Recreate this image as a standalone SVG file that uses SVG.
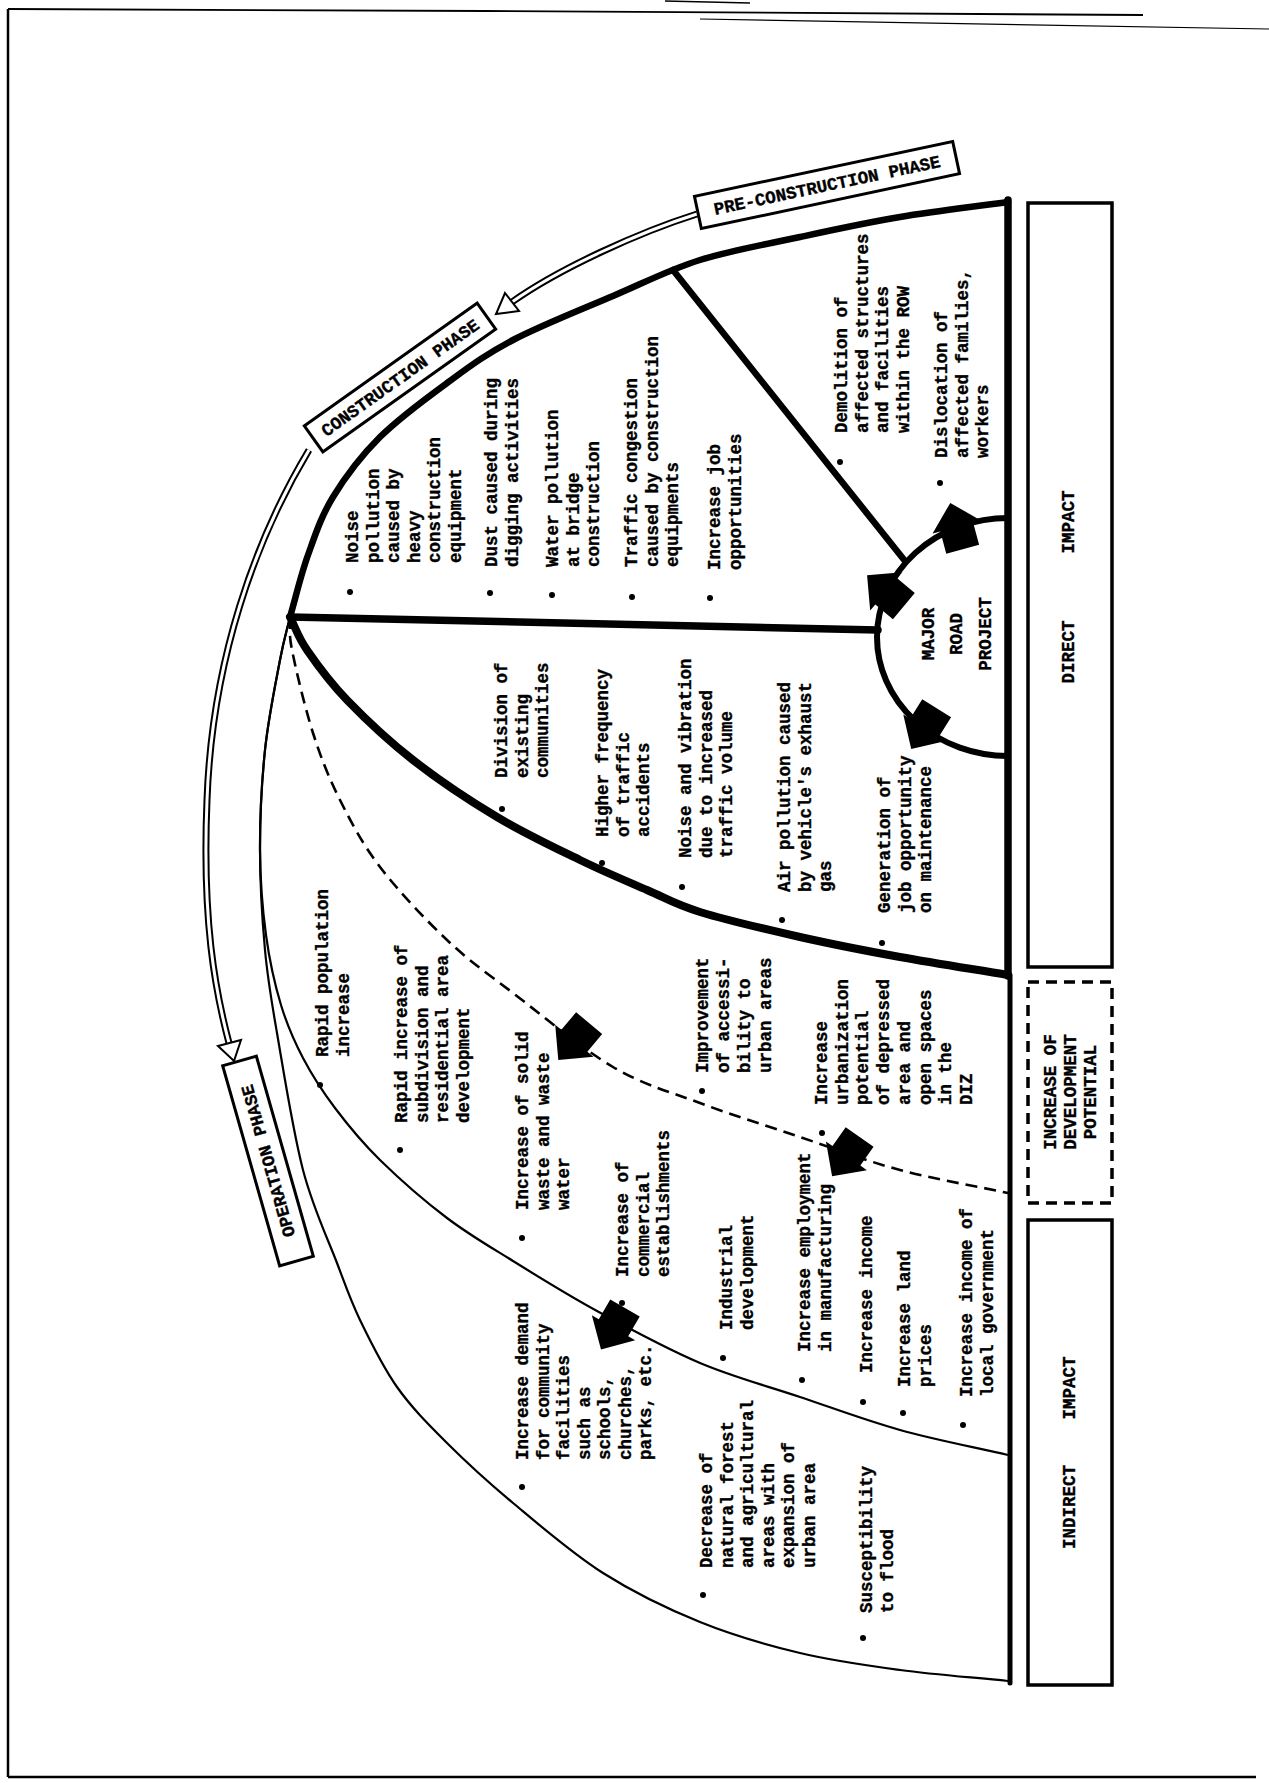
<svg xmlns="http://www.w3.org/2000/svg" width="1269" height="1783" viewBox="0 0 1269 1783">
<style>
.t{font-family:"Liberation Mono","DejaVu Sans Mono",monospace;font-size:17.5px;font-weight:bold;fill:#000;stroke:#000;stroke-width:0.35}
.c{text-anchor:middle}
.ln{fill:none;stroke:#000;stroke-linecap:round;stroke-linejoin:round}
.thin{fill:none;stroke:#000;stroke-width:2.2}
.dash{fill:none;stroke:#000;stroke-width:2.6;stroke-dasharray:12 7}
.box{fill:#fff;stroke:#000;stroke-width:3.5}
.dbox{fill:#fff;stroke:#000;stroke-width:3.5;stroke-dasharray:11 7}
.pbox{fill:#fff;stroke:#000;stroke-width:3}
.blt{fill:#000}
.hol{fill:none;stroke:#000;stroke-width:7}
.holi{fill:none;stroke:#fff;stroke-width:3}
.head{fill:#fff;stroke:#000;stroke-width:2}
</style>
<defs>
<polygon id="blk" points="-22,-17 1,-17 1,-25 26,0 1,25 1,17 -22,17" fill="#000"/>
</defs>
<rect width="1269" height="1783" fill="#fff"/>

<g id="border" fill="none" stroke="#000">
<polyline points="8,9 486,11 1143,15" stroke-width="1.8"/>
<line x1="665" y1="1" x2="750" y2="3" stroke-width="1.5"/>
<line x1="700" y1="19" x2="1269" y2="29" stroke-width="1.2"/>
<line x1="8" y1="9" x2="8" y2="1777" stroke-width="2.5"/>
<line x1="8" y1="1777" x2="1256" y2="1777" stroke-width="2.5"/>
</g>

<g id="regions">
<line x1="1008" y1="200" x2="1008" y2="976" class="ln" stroke-width="7.5"/>
<line x1="1010" y1="975" x2="1010" y2="1683" class="ln" stroke-width="5"/>
<path class="ln" stroke-width="6.5" d="M1008,202 C972,207 934.7,211.2 900,217 C865.3,222.8 833.3,229.8 800,237 C766.7,244.2 731.2,250.2 700,260 C668.8,269.8 644.2,282.7 613,296 C581.8,309.3 540.7,325.5 513,340 C485.3,354.5 469.2,366.8 447,383 C424.8,399.2 399,418 380,437 C361,456 345,477.3 333,497 C321,516.7 315.2,535 308,555 C300.8,575 296,596.3 290,617"/>
<path class="ln" stroke-width="8" d="M290,617 C295.7,628 297.5,636.2 307,650 C316.5,663.8 329.3,681.7 347,700 C364.7,718.3 388,740.5 413,760 C438,779.5 469.2,800.3 497,817 C524.8,833.7 555,847.8 580,860 C605,872.2 627,881.3 647,890 C667,898.7 674.5,904.2 700,912 C725.5,919.8 766.7,929.5 800,937 C833.3,944.5 865.3,950.7 900,957 C934.7,963.3 972,969 1008,975"/>
<path class="dash" d="M290,617 C290.7,628 288.2,630.7 292,650 C295.8,669.3 305,708 313,733 C321,758 328.8,777.7 340,800 C351.2,822.3 362.2,843.7 380,867 C397.8,890.3 424.8,919 447,940 C469.2,961 485.3,971.8 513,993 C540.7,1014.2 581.8,1048.7 613,1067 C644.2,1085.3 668.8,1091.3 700,1103 C731.2,1114.7 766.7,1125.8 800,1137 C833.3,1148.2 865.3,1160.7 900,1170 C934.7,1179.3 972,1185.3 1008,1193"/>
<path class="thin" d="M290,617 C286.7,631.3 284.2,637.8 280,660 C275.8,682.2 268.3,718.3 265,750 C261.7,781.7 260,816.7 260,850 C260,883.3 262.2,919.5 265,950 C267.8,980.5 270.7,996.3 277,1033 C283.3,1069.7 293,1131.7 303,1170 C313,1208.3 327.5,1238 337,1263 C346.5,1288 350,1299.3 360,1320 C370,1340.7 382.5,1366.5 397,1387 C411.5,1407.5 427.7,1423.7 447,1443 C466.3,1462.3 487,1481.3 513,1503 C539,1524.7 571.8,1553.2 603,1573 C634.2,1592.8 667.2,1608.7 700,1622 C732.8,1635.3 766.7,1645 800,1653 C833.3,1661 865.3,1665.3 900,1670 C934.7,1674.7 972,1677.3 1008,1681"/>
<path class="thin" d="M290,617 C286.7,631.3 284.2,637.8 280,660 C275.8,682.2 268.3,718.3 265,750 C261.7,781.7 259.8,819.2 260,850 C260.2,880.8 262.5,909.2 266,935 C269.5,960.8 274.8,984.5 281,1005 C287.2,1025.5 294,1040.8 303,1058 C312,1075.2 322.2,1091 335,1108 C347.8,1125 361.3,1141.7 380,1160 C398.7,1178.3 424.8,1201.2 447,1218 C469.2,1234.8 488,1245.5 513,1261 C538,1276.5 565.8,1294 597,1311 C628.2,1328 666.2,1348.7 700,1363 C733.8,1377.3 766.7,1385.8 800,1397 C833.3,1408.2 865.3,1420.3 900,1430 C934.7,1439.7 972,1446.7 1008,1455"/>
<line x1="673" y1="270" x2="905" y2="561" class="ln" stroke-width="6.5"/>
<line x1="290" y1="617" x2="878" y2="630" class="ln" stroke-width="7.5"/>
</g>

<g id="major-road-project">
<path class="ln" stroke-width="6" d="M1008,518 A131,119 0 0 0 1008,756"/>
<text class="t c" transform="translate(934,634) rotate(-90)">MAJOR</text>
<text class="t c" transform="translate(962,634) rotate(-90)">ROAD</text>
<text class="t c" transform="translate(991,634) rotate(-90)">PROJECT</text>
</g>

<g id="connectors">
<path class="hol" d="M697,214 C640,232 560,268 512,302"/>
<path class="holi" d="M697,214 C640,232 560,268 512,302"/>
<polygon class="head" points="505,293 519,311 496,314"/>
<path class="hol" d="M309,450 C255,540 212,660 207,800 C202,920 215,990 229,1043"/>
<path class="holi" d="M309,450 C255,540 212,660 207,800 C202,920 215,990 229,1043"/>
<polygon class="head" points="218,1046 241,1040 234,1061"/>
<use href="#blk" transform="translate(887,592) rotate(-140)"/>
<use href="#blk" transform="translate(957,528) rotate(-105)"/>
<use href="#blk" transform="translate(925,727) rotate(122)"/>
<use href="#blk" transform="translate(575,1040) rotate(130)"/>
<use href="#blk" transform="translate(847,1155) rotate(125)"/>
<use href="#blk" transform="translate(614,1327) rotate(120)"/>
</g>

<g id="phase-pre" transform="translate(827,185) rotate(-12)">
<rect class="pbox" x="-132" y="-16.5" width="264" height="33"/>
<text class="t c" x="0" y="6">PRE-CONSTRUCTION PHASE</text>
</g>
<g id="phase-construction" transform="translate(400,377.5) rotate(-35.4)">
<rect class="pbox" x="-106" y="-16" width="212" height="32"/>
<text class="t c" x="0" y="6">CONSTRUCTION PHASE</text>
</g>
<g id="phase-operation" transform="translate(268,1161) rotate(-105.9)">
<rect class="pbox" x="-104" y="-17.5" width="208" height="35"/>
<text class="t c" x="0" y="6">OPERATION PHASE</text>
</g>

<g id="box-direct">
<rect class="box" x="1028" y="203" width="84" height="764"/>
<text class="t c" transform="translate(1074,652) rotate(-90)">DIRECT</text>
<text class="t c" transform="translate(1074,522) rotate(-90)">IMPACT</text>
</g>
<g id="box-development">
<rect class="dbox" x="1028" y="982" width="84" height="221"/>
<text class="t c" transform="translate(1056,1092) rotate(-90)">INCREASE OF</text>
<text class="t c" transform="translate(1076,1092) rotate(-90)">DEVELOPMENT</text>
<text class="t c" transform="translate(1096,1092) rotate(-90)">POTENTIAL</text>
</g>
<g id="box-indirect">
<rect class="box" x="1028" y="1220" width="84" height="465"/>
<text class="t c" transform="translate(1075,1507) rotate(-90)">INDIRECT</text>
<text class="t c" transform="translate(1075,1388) rotate(-90)">IMPACT</text>
</g>

<g id="c1"><circle class="blt" cx="350" cy="592" r="3"/><text class="t" transform="translate(358,563) rotate(-90)"><tspan x="0" y="0">Noise</tspan><tspan x="0" y="20.5">pollution</tspan><tspan x="0" y="41">caused by</tspan><tspan x="0" y="61.5">heavy</tspan><tspan x="0" y="82">construction</tspan><tspan x="0" y="102.5">equipment</tspan></text></g>
<g id="c2"><circle class="blt" cx="490" cy="593" r="3"/><text class="t" transform="translate(497,567) rotate(-90)"><tspan x="0" y="0">Dust caused during</tspan><tspan x="0" y="20.5">digging activities</tspan></text></g>
<g id="c3"><circle class="blt" cx="552" cy="595" r="3"/><text class="t" transform="translate(558,567) rotate(-90)"><tspan x="0" y="0">Water pollution</tspan><tspan x="0" y="20.5">at bridge</tspan><tspan x="0" y="41">construction</tspan></text></g>
<g id="c4"><circle class="blt" cx="632" cy="597" r="3"/><text class="t" transform="translate(637,567) rotate(-90)"><tspan x="0" y="0">Traffic congestion</tspan><tspan x="0" y="20.5">caused by construction</tspan><tspan x="0" y="41">equipments</tspan></text></g>
<g id="c5"><circle class="blt" cx="710" cy="598" r="3"/><text class="t" transform="translate(720,570) rotate(-90)"><tspan x="0" y="0">Increase job</tspan><tspan x="0" y="20.5">opportunities</tspan></text></g>

<g id="p1"><circle class="blt" cx="840" cy="462" r="3"/><text class="t" transform="translate(847,433) rotate(-90)"><tspan x="0" y="0">Demolition of</tspan><tspan x="0" y="20.5">affected structures</tspan><tspan x="0" y="41">and facilities</tspan><tspan x="0" y="61.5">within the ROW</tspan></text></g>
<g id="p2"><circle class="blt" cx="940" cy="483" r="3"/><text class="t" transform="translate(947,458) rotate(-90)"><tspan x="0" y="0">Dislocation of</tspan><tspan x="0" y="20.5">affected families,</tspan><tspan x="0" y="41">workers</tspan></text></g>

<g id="o1"><circle class="blt" cx="502" cy="809" r="3"/><text class="t" transform="translate(507,778) rotate(-90)"><tspan x="0" y="0">Division of</tspan><tspan x="0" y="20.5">existing</tspan><tspan x="0" y="41">communities</tspan></text></g>
<g id="o2"><circle class="blt" cx="602" cy="863" r="3"/><text class="t" transform="translate(608,837) rotate(-90)"><tspan x="0" y="0">Higher frequency</tspan><tspan x="0" y="20.5">of traffic</tspan><tspan x="0" y="41">accidents</tspan></text></g>
<g id="o3"><circle class="blt" cx="682" cy="887" r="3"/><text class="t" transform="translate(691,858) rotate(-90)"><tspan x="0" y="0">Noise and vibration</tspan><tspan x="0" y="20.5">due to increased</tspan><tspan x="0" y="41">traffic volume</tspan></text></g>
<g id="o4"><circle class="blt" cx="782" cy="920" r="3"/><text class="t" transform="translate(790,892) rotate(-90)"><tspan x="0" y="0">Air pollution caused</tspan><tspan x="0" y="20.5">by vehicle's exhaust</tspan><tspan x="0" y="41">gas</tspan></text></g>
<g id="o5"><circle class="blt" cx="882" cy="943" r="3"/><text class="t" transform="translate(890,913) rotate(-90)"><tspan x="0" y="0">Generation of</tspan><tspan x="0" y="20.5">job opportunity</tspan><tspan x="0" y="41">on maintenance</tspan></text></g>

<g id="d1"><circle class="blt" cx="702" cy="1091" r="3"/><text class="t" transform="translate(708,1073) rotate(-90)"><tspan x="0" y="0">Improvement</tspan><tspan x="0" y="21">of accessi-</tspan><tspan x="0" y="42">bility to</tspan><tspan x="0" y="63">urban areas</tspan></text></g>
<g id="d2"><circle class="blt" cx="822" cy="1133" r="3"/><text class="t" transform="translate(827,1105) rotate(-90)"><tspan x="0" y="0">Increase</tspan><tspan x="0" y="20.7">urbanization</tspan><tspan x="0" y="41.4">potential</tspan><tspan x="0" y="62.1">of depressed</tspan><tspan x="0" y="82.8">area and</tspan><tspan x="0" y="103.5">open spaces</tspan><tspan x="0" y="124.2">in the</tspan><tspan x="0" y="144.9">DIZ</tspan></text></g>

<g id="i1"><circle class="blt" cx="320" cy="1085" r="3"/><text class="t" transform="translate(328,1057) rotate(-90)"><tspan x="0" y="0">Rapid population</tspan><tspan x="0" y="20.5">increase</tspan></text></g>
<g id="i2"><circle class="blt" cx="400" cy="1150" r="3"/><text class="t" transform="translate(407,1123) rotate(-90)"><tspan x="0" y="0">Rapid increase of</tspan><tspan x="0" y="20.5">subdivision and</tspan><tspan x="0" y="41">residential area</tspan><tspan x="0" y="61.5">development</tspan></text></g>
<g id="i3"><circle class="blt" cx="522" cy="1238" r="3"/><text class="t" transform="translate(528,1210) rotate(-90)"><tspan x="0" y="0">Increase of solid</tspan><tspan x="0" y="20.5">waste and waste</tspan><tspan x="0" y="41">water</tspan></text></g>
<g id="i4"><circle class="blt" cx="622" cy="1303" r="3"/><text class="t" transform="translate(628,1277) rotate(-90)"><tspan x="0" y="0">Increase of</tspan><tspan x="0" y="20.5">commercial</tspan><tspan x="0" y="41">establishments</tspan></text></g>
<g id="i5"><circle class="blt" cx="723" cy="1358" r="3"/><text class="t" transform="translate(732,1330) rotate(-90)"><tspan x="0" y="0">Industrial</tspan><tspan x="0" y="20.5">development</tspan></text></g>
<g id="i6"><circle class="blt" cx="802" cy="1380" r="3"/><text class="t" transform="translate(810,1352) rotate(-90)"><tspan x="0" y="0">Increase employment</tspan><tspan x="0" y="20.5">in manufacturing</tspan></text></g>
<g id="i7"><circle class="blt" cx="863" cy="1402" r="3"/><text class="t" transform="translate(872,1373) rotate(-90)"><tspan x="0" y="0">Increase income</tspan></text></g>
<g id="i8"><circle class="blt" cx="903" cy="1413" r="3"/><text class="t" transform="translate(910,1387) rotate(-90)"><tspan x="0" y="0">Increase land</tspan><tspan x="0" y="20.5">prices</tspan></text></g>
<g id="i9"><circle class="blt" cx="963" cy="1425" r="3"/><text class="t" transform="translate(972,1397) rotate(-90)"><tspan x="0" y="0">Increase income of</tspan><tspan x="0" y="20.5">local government</tspan></text></g>
<g id="i10"><circle class="blt" cx="522" cy="1487" r="3"/><text class="t" transform="translate(528,1460) rotate(-90)"><tspan x="0" y="0">Increase demand</tspan><tspan x="0" y="20.5">for community</tspan><tspan x="0" y="41">facilities</tspan><tspan x="0" y="61.5">such as</tspan><tspan x="0" y="82">schools,</tspan><tspan x="0" y="102.5">churches,</tspan><tspan x="0" y="123">parks, etc.</tspan></text></g>
<g id="i11"><circle class="blt" cx="703" cy="1595" r="3"/><text class="t" transform="translate(712,1568) rotate(-90)"><tspan x="0" y="0">Decrease of</tspan><tspan x="0" y="20.5">natural forest</tspan><tspan x="0" y="41">and agricultural</tspan><tspan x="0" y="61.5">areas with</tspan><tspan x="0" y="82">expansion of</tspan><tspan x="0" y="102.5">urban area</tspan></text></g>
<g id="i12"><circle class="blt" cx="863" cy="1638" r="3"/><text class="t" transform="translate(872,1613) rotate(-90)"><tspan x="0" y="0">Susceptibility</tspan><tspan x="0" y="20.5">to flood</tspan></text></g>
</svg>
